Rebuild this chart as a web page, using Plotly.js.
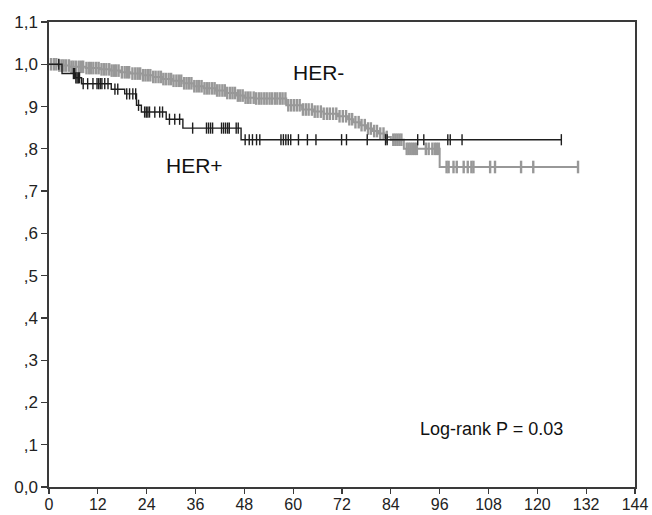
<!DOCTYPE html>
<html>
<head>
<meta charset="utf-8">
<script src="https://cdn.plot.ly/plotly-3.0.1.min.js"></script>
<style>html,body{margin:0;padding:0;background:#fff;}#chart{width:652px;height:515px;}</style>
</head>
<body>
<div id="chart"></div>
<script>
// HER+ (black) Kaplan-Meier steps: event times (months) and survival after each
const herPosTimes = [0, 3.2, 6.5, 8.0, 15.3, 18.6, 21.5, 22.7, 28.8, 32.9, 47.2];
const herPosSurv  = [1.0, 0.978, 0.968, 0.954, 0.941, 0.930, 0.903, 0.887, 0.870, 0.849, 0.8215];
const herPosEnd = 125.9;
const herPosCensor = [2.4, 6.0, 6.3, 6.6, 6.9, 7.2, 7.5, 8.4, 9.5, 10.8, 11.8, 12.2, 12.6, 13.0, 13.7, 14.5,
  16.2, 16.9, 19.1, 19.8, 20.6, 21.3, 22.0, 23.5, 23.9, 24.3, 24.7, 26.0, 27.2, 27.9, 29.6, 30.9, 32.1,
  35.3, 38.7, 39.2, 39.7, 40.2, 42.4, 42.9, 43.4, 43.9, 44.3, 46.0, 46.5, 48.2, 49.2, 50.0, 51.0, 51.8,
  57.0, 57.6, 58.2, 58.8, 59.4, 61.3, 63.5, 65.6, 71.9, 73.1, 78.2, 82.7, 83.1, 90.6, 92.1, 98.0, 98.6,
  101.5, 125.9];

// HER- (gray) Kaplan-Meier steps
const herNegTimes = [0, 2.0, 5.0, 9.0, 12.5, 15.0, 17.5, 20.0, 23.0, 25.5, 28.0, 30.5, 33.0, 35.5, 38.0,
  41.0, 43.5, 46.0, 48.0, 50.5, 58.3, 62.2, 65.0, 67.5, 71.0, 73.5, 74.8, 76.5, 78.0, 79.5, 81.0, 82.5,
  84.0, 87.2, 96.0];
const herNegSurv = [1.0, 0.997, 0.994, 0.991, 0.988, 0.985, 0.981, 0.978, 0.974, 0.970, 0.965, 0.961,
  0.955, 0.948, 0.943, 0.938, 0.932, 0.926, 0.921, 0.919, 0.903, 0.893, 0.888, 0.883, 0.877, 0.870,
  0.863, 0.856, 0.848, 0.842, 0.836, 0.828, 0.8215, 0.800, 0.757];
const herNegEnd = 130.0;
const herNegCensor = [0.5, 1.2, 1.8, 2.5, 3.1, 3.6, 4.2, 4.9, 5.5, 6.0, 6.6, 7.3, 7.9, 8.4, 9.2, 9.8, 10.3,
  10.9, 11.6, 12.2, 12.9, 13.5, 14.1, 14.8, 15.4, 16.0, 16.5, 17.1, 17.9, 18.6, 19.2, 19.7, 20.5, 21.2,
  21.8, 22.4, 23.1, 23.7, 24.3, 24.9, 25.6, 26.2, 26.9, 27.5, 28.1, 28.7, 29.4, 30.0, 30.6, 31.3, 31.9,
  32.5, 33.2, 33.8, 34.4, 35.0, 35.7, 36.3, 36.9, 37.5, 38.2, 38.8, 39.4, 40.1, 40.7, 41.3, 41.9, 42.6,
  43.2, 43.8, 44.5, 45.1, 45.7, 46.4, 47.0, 47.6, 48.3, 48.9, 49.5, 50.3, 50.9, 51.6, 52.2, 52.9, 53.5,
  54.2, 54.8, 55.5, 56.1, 56.8, 57.4, 58.1, 58.8, 59.5, 60.2, 60.9, 61.6, 62.4, 63.1, 63.8, 64.6, 65.3,
  66.0, 66.8, 67.5, 68.3, 69.0, 69.8, 70.6, 71.4, 72.2, 73.0, 73.8, 74.5, 75.3, 76.1, 76.8, 77.6, 78.4,
  79.1, 79.9, 80.6, 81.4, 82.2, 83.0, 84.6, 85.1, 85.6, 86.1, 86.6, 87.9, 88.4, 88.9, 89.4, 89.9, 90.4,
  92.6, 93.3, 94.2, 94.8, 95.3, 95.8, 97.7, 98.2, 99.4, 100.2, 101.9, 102.9, 103.8, 104.3, 108.4, 109.6,
  116.0, 119.0, 130.0];

// Axis ticks
const xTicks = [0, 12, 24, 36, 48, 60, 72, 84, 96, 108, 120, 132, 144];
const yTickVals = [0, 0.1, 0.2, 0.3, 0.4, 0.5, 0.6, 0.7, 0.8, 0.9, 1.0, 1.1];
const yTickText = ["0,0", ",1", ",2", ",3", ",4", ",5", ",6", ",7", ",8", ",9", "1,0", "1,1"];

// Labels
const groupLabels = ["HER-", "HER+"];
const pValueText = "Log-rank P = 0.03";

function survAt(times, surv, t) {
  let v = surv[0];
  for (let i = 0; i < times.length; i++) { if (times[i] <= t) v = surv[i]; }
  return v;
}
function stepXY(times, surv, end) {
  return { x: times.concat([end]), y: surv.concat([surv[surv.length - 1]]) };
}

const neg = stepXY(herNegTimes, herNegSurv, herNegEnd);
const pos = stepXY(herPosTimes, herPosSurv, herPosEnd);
const gray = "#989898", black = "#1e1e1e";

const traces = [
  { x: neg.x, y: neg.y, mode: "lines", line: { shape: "hv", color: gray, width: 2 }, hoverinfo: "skip" },
  { x: herNegCensor, y: herNegCensor.map(t => survAt(herNegTimes, herNegSurv, t)), mode: "markers",
    marker: { symbol: "line-ns", size: 9, line: { color: gray, width: 2.4 } }, hoverinfo: "skip" },
  { x: pos.x, y: pos.y, mode: "lines", line: { shape: "hv", color: black, width: 1.4 }, hoverinfo: "skip" },
  { x: herPosCensor, y: herPosCensor.map(t => survAt(herPosTimes, herPosSurv, t)), mode: "markers",
    marker: { symbol: "line-ns", size: 8, line: { color: black, width: 1.4 } }, hoverinfo: "skip" }
];

const fam = "Liberation Sans, Arial, sans-serif";
const layout = {
  width: 652, height: 515,
  margin: { l: 49, r: 17, t: 22, b: 28 },
  paper_bgcolor: "#fff", plot_bgcolor: "#fff",
  showlegend: false,
  xaxis: {
    range: [0, 144], tickvals: xTicks, ticktext: xTicks.map(String),
    showgrid: false, zeroline: false, showline: true, mirror: true,
    linecolor: "#3a3a3a", linewidth: 1.6, ticks: "outside", ticklen: 5, tickwidth: 1.2, tickcolor: "#3a3a3a",
    tickfont: { family: fam, size: 16, color: "#222" }, ticklabelstandoff: -3
  },
  yaxis: {
    range: [0, 1.1], tickvals: yTickVals, ticktext: yTickText,
    showgrid: false, zeroline: false, showline: true, mirror: true,
    linecolor: "#3a3a3a", linewidth: 1.6, ticks: "outside", ticklen: 6, tickwidth: 1.2, tickcolor: "#3a3a3a",
    tickfont: { family: fam, size: 17, color: "#222" }
  },
  annotations: [
    { x: 66.2, y: 0.981, text: groupLabels[0], showarrow: false, xanchor: "center", yanchor: "middle",
      font: { family: fam, size: 21, color: "#111" } },
    { x: 35.8, y: 0.760, text: groupLabels[1], showarrow: false, xanchor: "center", yanchor: "middle",
      font: { family: fam, size: 21, color: "#111" } },
    { x: 108.8, y: 0.138, text: pValueText, showarrow: false, xanchor: "center", yanchor: "middle",
      font: { family: fam, size: 18, color: "#111" } }
  ]
};

Plotly.newPlot("chart", traces, layout, { staticPlot: true, displayModeBar: false });
</script>
</body>
</html>
